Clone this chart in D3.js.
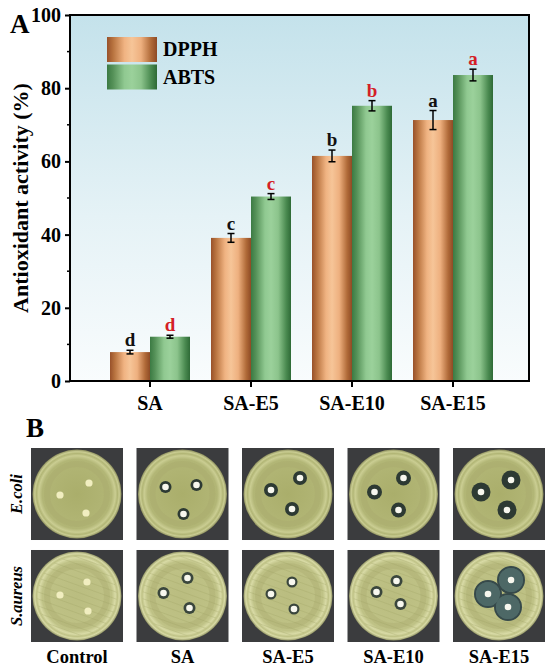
<!DOCTYPE html>
<html><head><meta charset="utf-8">
<script src="https://cdn.jsdelivr.net/npm/d3@7"></script>
<style>html,body{margin:0;padding:0;background:#fff}svg{display:block}svg text{font-family:'Liberation Serif','Times New Roman',serif}</style>
</head><body>
<svg id="c" width="550" height="669"></svg>
<script>
// ---- Panel A data ----
const categories = ["SA", "SA-E5", "SA-E10", "SA-E15"];
const seriesNames = ["DPPH", "ABTS"];
const dpph = [7.9, 39.1, 61.5, 71.3];
const dpphErr = [0.5, 1.2, 1.6, 2.6];
const abts = [12.1, 50.4, 75.2, 83.6];
const abtsErr = [0.4, 0.8, 1.4, 1.6];
const dpphLetters = ["d", "c", "b", "a"];
const abtsLetters = ["d", "c", "b", "a"];
const yTicks = [0, 20, 40, 60, 80, 100];
const yMinorTicks = [10, 30, 50, 70, 90];

// ---- Panel B data ----
const plateLabels = ["Control", "SA", "SA-E5", "SA-E10", "SA-E15"];
const rowLabels = ["E.coli", "S.aureus"];
// disc offsets from plate centre (plate units, plate radius ~46)
const ecoliDiscs = [
  [[12,-11],[-17,1],[9,19]],
  [[-17,-7],[14,-9],[1,20]],
  [[-17,-4],[12,-16],[4,15]],
  [[-19,-2],[10,-16],[5,16]],
  [[-18,-2],[12,-14],[8,16]]
];
const saureusDiscs = [
  [[10,-14],[-17,-1],[11,15]],
  [[5,-18],[-19,-3],[7,12]],
  [[-17,-2],[4,-14],[6,13]],
  [[-17,-4],[3,-15],[7,8]],
  [[-11,-2],[12,-16],[9,11]]
];
const ecoliZones = [0, 6, 7, 7.5, 9.5];
const saureusZones = [0, 6, 5.5, 6, 13];

const svg = d3.select("#c");
const defs = svg.append("defs");
const serif = "Liberation Serif, Times New Roman, serif";

function hGrad(id, stops) {
  const g = defs.append("linearGradient").attr("id", id)
    .attr("x1", "0%").attr("x2", "100%").attr("y1", "0%").attr("y2", "0%");
  stops.forEach(s => g.append("stop").attr("offset", s[0]).attr("stop-color", s[1]));
}
hGrad("gDPPH", [["0%","#98512a"],["12%","#b8733f"],["35%","#f0b382"],["50%","#f6c598"],["68%","#eeb07f"],["88%","#b06a38"],["100%","#8e4a25"]]);
hGrad("gABTS", [["0%","#3b7a43"],["12%","#559158"],["35%","#90c991"],["50%","#9bd19b"],["68%","#8cc48c"],["88%","#4a8a50"],["100%","#2e6a36"]]);
const bg = defs.append("linearGradient").attr("id","gBg").attr("x1","0").attr("x2","0").attr("y1","0").attr("y2","1");
bg.append("stop").attr("offset","0%").attr("stop-color","#c4e2eb");
bg.append("stop").attr("offset","55%").attr("stop-color","#e5f2f6");
bg.append("stop").attr("offset","100%").attr("stop-color","#f9fcfd");

function plateGrad(id, c0, c1, rim, edge) {
  const g = defs.append("radialGradient").attr("id", id);
  g.append("stop").attr("offset","0%").attr("stop-color",c0);
  g.append("stop").attr("offset","78%").attr("stop-color",c1);
  g.append("stop").attr("offset","86%").attr("stop-color",rim);
  g.append("stop").attr("offset","91%").attr("stop-color",c1);
  g.append("stop").attr("offset","95%").attr("stop-color",rim);
  g.append("stop").attr("offset","100%").attr("stop-color",edge);
}
plateGrad("gPlate0", "#aaae6b", "#b2b676", "#cacd92", "#8b8d5c");
plateGrad("gPlate1", "#babd80", "#bfc286", "#d8daa5", "#909363");

// ---- Panel A ----
const plotL = 70, plotR = 529, plotT = 15, plotB = 381;
const y = d3.scaleLinear().domain([0, 100]).range([plotB, plotT]);
const x0 = d3.scaleBand().domain(categories).range([99.5, 503.5]).padding(0);
const x1 = d3.scaleBand().domain(seriesNames).range([10.5, 90.5]).padding(0);

svg.append("rect").attr("x", plotL).attr("y", plotT).attr("width", plotR - plotL).attr("height", plotB - plotT)
  .attr("fill", "url(#gBg)");

const seriesData = [
  {name: "DPPH", vals: dpph, errs: dpphErr, letters: dpphLetters, fill: "url(#gDPPH)", lc: "#111"},
  {name: "ABTS", vals: abts, errs: abtsErr, letters: abtsLetters, fill: "url(#gABTS)", lc: "#d41f26"}
];

seriesData.forEach(s => {
  const g = svg.append("g");
  categories.forEach((c, i) => {
    const bx = x0(c) + x1(s.name);
    const bw = x1.bandwidth();
    const v = s.vals[i], e = s.errs[i];
    g.append("rect").attr("x", bx).attr("y", y(v)).attr("width", bw).attr("height", y(0) - y(v)).attr("fill", s.fill);
    const cx = bx + bw / 2;
    g.append("line").attr("x1", cx).attr("x2", cx).attr("y1", y(v - e)).attr("y2", y(v + e)).attr("stroke", "#000").attr("stroke-width", 1.5);
    [v - e, v + e].forEach(t => g.append("line").attr("x1", cx - 3.5).attr("x2", cx + 3.5).attr("y1", y(t)).attr("y2", y(t)).attr("stroke", "#000").attr("stroke-width", 1.5));
    g.append("text").attr("x", cx).attr("y", y(v + e) - 4).attr("text-anchor", "middle")
      .attr("font-family", serif).attr("font-weight", "bold").attr("font-size", 19).attr("fill", s.lc).text(s.letters[i]);
  });
});

// frame
svg.append("rect").attr("x", plotL).attr("y", plotT).attr("width", plotR - plotL).attr("height", plotB - plotT)
  .attr("fill", "none").attr("stroke", "#000").attr("stroke-width", 2);

// y axis
const yAxis = svg.append("g").attr("transform", `translate(${plotL},0)`)
  .call(d3.axisLeft(y).tickValues(yTicks).tickSize(5).tickPadding(4).tickFormat(d3.format("d")));
yAxis.attr("font-family", serif);
yAxis.select(".domain").remove();
yAxis.selectAll("line").attr("stroke", "#000").attr("stroke-width", 2);
yAxis.selectAll("text").attr("font-family", serif).attr("font-weight", "bold").attr("font-size", 20).attr("fill", "#000");
yAxis.selectAll(".minor").data(yMinorTicks).enter().append("line").attr("class", "minor")
  .attr("x1", -3).attr("x2", 0).attr("y1", d => y(d)).attr("y2", d => y(d)).attr("stroke", "#000").attr("stroke-width", 1.5);

// x axis
const xAxis = svg.append("g").attr("transform", `translate(0,${plotB})`)
  .call(d3.axisBottom(x0).tickSize(6).tickPadding(9));
xAxis.attr("font-family", serif);
xAxis.select(".domain").remove();
xAxis.selectAll("line").attr("stroke", "#000").attr("stroke-width", 2);
xAxis.selectAll("text").attr("font-family", serif).attr("font-weight", "bold").attr("font-size", 20).attr("fill", "#000");

// y label
svg.append("text").attr("transform", `translate(28,${(plotT + plotB) / 2}) rotate(-90)`).attr("text-anchor", "middle")
  .attr("font-family", serif).attr("font-weight", "bold").attr("font-size", 22).text("Antioxidant activity (%)");

// panel letter A
svg.append("text").attr("x", 10).attr("y", 33).attr("font-family", serif).attr("font-weight", "bold").attr("font-size", 27).text("A");

// legend
seriesData.forEach((s, i) => {
  const ly = 37 + i * 27.5;
  svg.append("rect").attr("x", 107).attr("y", ly).attr("width", 50).attr("height", 25).attr("fill", s.fill);
  svg.append("text").attr("x", 163).attr("y", ly + 19).attr("font-family", serif).attr("font-weight", "bold").attr("font-size", 20).text(s.name);
});

// ---- Panel B ----
svg.append("text").attr("x", 26).attr("y", 437).attr("font-family", serif).attr("font-weight", "bold").attr("font-size", 27).text("B");

const px = d3.scaleBand().domain(plateLabels).range([31, 545]).paddingInner(0.128);
const py = d3.scaleBand().domain(rowLabels).range([448, 642]).paddingInner(0.098);
const rows = [
  {name: "E.coli", discs: ecoliDiscs, zones: ecoliZones, grad: "url(#gPlate0)"},
  {name: "S.aureus", discs: saureusDiscs, zones: saureusZones, grad: "url(#gPlate1)"}
];
const bwP = px.bandwidth();
const local = d3.scaleLinear().domain([-46, 46]).range([0, bwP]);
const zoneColor = (ri, pi) => (ri === 1 && pi === 4) ? "#4d6866" : (ri === 1 ? "#3a463c" : "#2d3a33");
const zoneEdge = (ri, pi) => (ri === 1 && pi === 4) ? "#36494a" : "none";

defs.append("clipPath").attr("id", "dishClip").append("circle")
  .attr("cx", local(0)).attr("cy", local(0)).attr("r", local(40) - local(0));

rows.forEach((r, ri) => {
  plateLabels.forEach((p, pi) => {
    const g = svg.append("g").attr("transform", `translate(${px(p)},${py(r.name)})`);
    g.append("rect").attr("width", bwP).attr("height", py.bandwidth()).attr("fill", "#3b3c3e");
    g.append("circle").attr("cx", local(0)).attr("cy", local(0)).attr("r", local(44.5) - local(0)).attr("fill", r.grad);
    g.append("circle").attr("cx", local(0)).attr("cy", local(0)).attr("r", local(30) - local(0))
      .attr("fill", "none").attr("stroke", "#a4a769").attr("stroke-opacity", 0.3).attr("stroke-width", 6);
    if (ri === 1) {
      // faint streak texture on S. aureus plates
      const sg = g.append("g").attr("clip-path", "url(#dishClip)");
      d3.range(-60, 61, 7).forEach(k => sg.append("line")
        .attr("x1", local(-50)).attr("y1", local(k - 18)).attr("x2", local(50)).attr("y2", local(k + 18))
        .attr("stroke", "#9c9f63").attr("stroke-opacity", 0.35).attr("stroke-width", 0.8));
    }
    const zr = r.zones[pi];
    if (zr > 0) {
      r.discs[pi].forEach(d => g.append("circle").attr("cx", local(d[0])).attr("cy", local(d[1]))
        .attr("r", zr).attr("fill", zoneColor(ri, pi)).attr("stroke", zoneEdge(ri, pi)).attr("stroke-width", 2));
      if (ri === 1 && pi === 4) {
        r.discs[pi].forEach(d => g.append("circle").attr("cx", local(d[0])).attr("cy", local(d[1]))
          .attr("r", zr - 1).attr("fill", zoneColor(ri, pi)));
      }
    }
    r.discs[pi].forEach(d => g.append("circle").attr("cx", local(d[0])).attr("cy", local(d[1]))
      .attr("r", pi === 0 ? 3.6 : 3.3).attr("fill", pi === 0 ? "#f1eec0" : "#f7f7ee"));
  });
  svg.append("text").attr("transform", `translate(22,${py(r.name) + py.bandwidth() / 2}) rotate(-90)`)
    .attr("text-anchor", "middle").attr("font-family", serif).attr("font-weight", "bold").attr("font-style", "italic")
    .attr("font-size", 16.5).text(r.name);
});

plateLabels.forEach(p => {
  svg.append("text").attr("x", px(p) + bwP / 2).attr("y", 663).attr("text-anchor", "middle")
    .attr("font-family", serif).attr("font-weight", "bold").attr("font-size", 18.5).text(p);
});
</script>
</body></html>
